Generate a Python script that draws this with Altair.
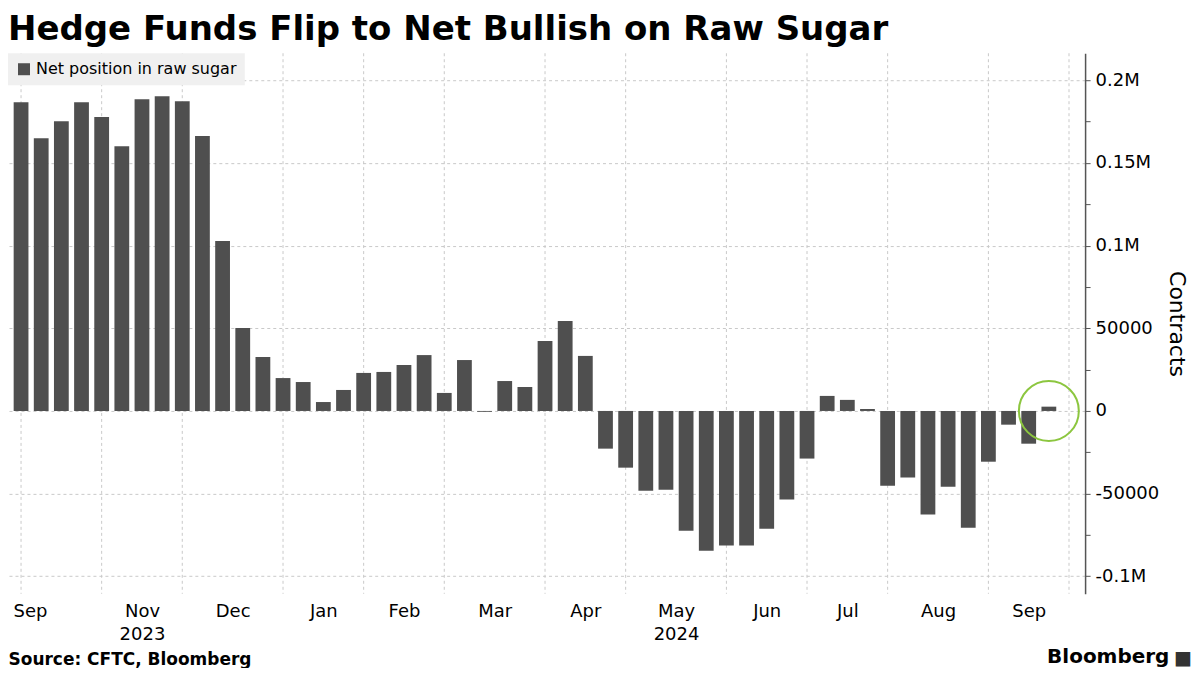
import json
import altair as alt
import pandas as pd

# ---------------- data ----------------
series_name = "Net position in raw sugar"
first_week = "2023-10-06"          # weekly CFTC releases (Fridays)
net_position = [
    186800, 165000, 175300, 186800, 177800, 160200, 188600, 190400, 187400, 166300,
    102800, 50200, 32600, 19900, 17500, 5400, 12700, 23000, 23600, 27800,
    33800, 10900, 30800, -500, 18100, 14500, 42300, 54400, 33300, -22800,
    -34300, -48200, -47600, -72400, -84500, -81400, -81400, -71200, -53600, -28800,
    9100, 6700, 1200, -45200, -40300, -62700, -45800, -70600, -30700, -8300,
    -19800, 2600,
]
year_marks = {"2023-11": "2023", "2024-05": "2024"}
y_ticks = list(range(-100000, 200001, 25000))
title_text = "Hedge Funds Flip to Net Bullish on Raw Sugar"
y_title = "Contracts"
source_text = "Source: CFTC, Bloomberg"
logo_text = "Bloomberg"

# ---------------- derived tables ----------------
n = len(net_position)
weeks = pd.date_range(first_week, periods=n, freq="7D")
df = pd.DataFrame({
    "idx": list(range(n)),
    "week": weeks.strftime("%Y-%m-%d"),
    "net": net_position,
    "series": series_name,
})

axis_weeks = pd.date_range(first_week, periods=n + 1, freq="7D")
periods = axis_weeks.to_period("M")
starts = [i for i in range(len(axis_weeks)) if i == 0 or periods[i] != periods[i - 1]]

x_lo = -0.4
x_hi = n + 0.55

labels = []  # (position, lines)
lead_month = (axis_weeks[0] - pd.Timedelta(days=7))
labels.append((x_lo, [lead_month.strftime("%b")]))
for k, (s0, s1) in enumerate(zip(starts[:-1], starts[1:])):
    if k == 0:
        continue  # first full month collides with the leading label
    d = axis_weeks[s0]
    lines = [d.strftime("%b")]
    key = d.strftime("%Y-%m")
    if key in year_marks:
        lines.append(year_marks[key])
    labels.append(((s0 + s1) / 2, lines))

label_values = [p for p, _ in labels]
expr = ""
for p, lines in labels:
    val = json.dumps(lines) if len(lines) > 1 else json.dumps(lines[0])
    expr += f"datum.value == {p} ? {val} : "
expr += "''"

# ---------------- styling ----------------
BAR = "#4f4f4f"
GRID = "#c9c9c9"
FONT = "DejaVu Sans"

x_scale = alt.Scale(domain=[x_lo, x_hi], nice=False, zero=False)
x_axis = alt.Axis(
    values=label_values, labelExpr=expr, grid=False, ticks=False, tickSize=0,
    domain=False, labelFontSize=18, labelColor="black", labelPadding=9,
    labelLineHeight=23, labelOverlap=False, labelFlush=False, labelBaseline="top",
    labelAlign={"condition": {"test": f"datum.value <= {x_lo}", "value": "left"}, "value": "center"},
    title=source_text, titleAnchor="start", titleAlign="left", titleFontSize=17,
    titleFontWeight="bold", titleColor="black", titlePadding=8,
)
X = alt.X("idx:Q", scale=x_scale, axis=x_axis)

y_scale = alt.Scale(domain=[-110600, 216400], nice=False, zero=False)
y_axis = alt.Axis(
    orient="right", values=y_ticks,
    labelExpr="datum.value % 50000 != 0 ? '' : (abs(datum.value) >= 100000 ? (datum.value / 1000000) + 'M' : '' + datum.value)",
    grid=True, gridColor=GRID, gridDash=[3, 3], gridWidth=1,
    gridOpacity={"condition": {"test": "datum.value % 50000 != 0", "value": 0}, "value": 1},
    domain=True, domainColor="#555555", domainWidth=1.5,
    ticks=True, tickSize=5, tickColor="#555555", tickWidth=1,
    labelFontSize=18, labelColor="black", labelPadding=5,
    title=y_title, titleFontSize=22, titleFontWeight="normal", titleColor="black",
    titlePadding=6,
)
Y = alt.Y("net:Q", scale=y_scale, axis=y_axis)

vgrid = alt.Chart(pd.DataFrame({"idx": starts})).mark_rule(
    color=GRID, strokeDash=[3, 3], strokeWidth=1
).encode(x=X)

bars = alt.Chart(df).mark_bar(size=14.8).encode(
    x=X,
    y=Y,
    color=alt.Color(
        "series:N",
        scale=alt.Scale(range=[BAR]),
        legend=alt.Legend(
            title=None, orient="none", legendX=0, legendY=0,
            fillColor="#f0f0f0", padding=8, symbolType="square", symbolSize=144,
            symbolStrokeWidth=0, labelFontSize=16, labelColor="black", labelOffset=4,
            labelLimit=0,
        ),
    ),
)

highlight = alt.Chart(df).transform_filter(
    f"datum.idx == {n - 1}"
).transform_calculate(zero="0").mark_point(
    shape="circle", size=3600, filled=False, color="#8cc63f", strokeWidth=2, opacity=1
).encode(x=X, y=alt.Y("zero:Q", scale=y_scale, axis=y_axis))

logo = alt.Chart(pd.DataFrame({"t": [logo_text]})).mark_text(
    align="left", baseline="alphabetic", fontSize=20, fontWeight="bold", color="black"
).encode(x=alt.value(1040), y=alt.value(610), text="t:N")

icon = alt.Chart(pd.DataFrame({"t": ["\u25a0"]})).mark_text(
    align="left", baseline="alphabetic", fontSize=19, color="#333333"
).encode(x=alt.value(1167), y=alt.value(611), text="t:N")

chart = alt.layer(vgrid, bars, highlight, logo, icon).properties(
    width=1078,
    height=541,
    padding={"left": 0, "top": 4, "right": 0, "bottom": 0},
    title=alt.TitleParams(
        title_text, anchor="start", fontSize=34, fontWeight="bold",
        color="black", offset=6, frame="group",
    ),
).configure(font=FONT).configure_view(stroke=None)

chart.save("out.html", embed_options={"renderer": "svg", "actions": False})
